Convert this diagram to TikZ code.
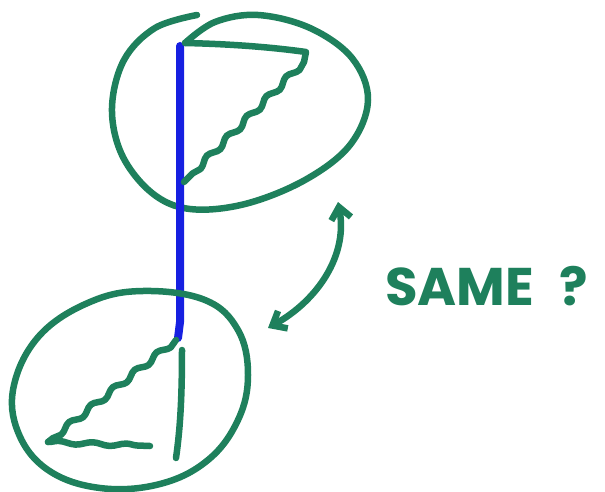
\documentclass[tikz,border=0pt]{standalone}
\usepackage{fontspec}
\setmainfont{Poppins}
\usetikzlibrary{arrows.meta,decorations.pathmorphing}
\definecolor{marker}{RGB}{30,128,92}
\definecolor{pole}{RGB}{22,32,225}
\tikzset{
  ink/.style={draw=marker,line width=6.5pt,line cap=round,line join=round},
  wavy/.style={decorate,decoration={snake,amplitude=2.5pt,segment length=28pt}},
  poleline/.style={draw=pole,line width=8pt,line cap=round},
  label/.style={text=marker,font=\fontsize{53}{53}\selectfont\bfseries,inner sep=0pt}
}
\begin{document}
\begin{tikzpicture}[x=1pt,y=-1pt]
\useasboundingbox (0,0) rectangle (605,492);
% top circle
\draw[ink] plot[smooth,tension=0.6] coordinates {(197,15) (155,28) (124,60) (112,108) (122,155) (152,193) (190,209) (245,204) (305,180) (350,145) (368,100) (352,58) (310,28) (258,15) (215,22) (185,43)};
% blue pole
\draw[poleline] (180,46) -- (180,322) -- (178,338);
% top flag
\draw[ink] (185,43) .. controls (230,44) and (270,47) .. (306,52) -- (304,62);
\draw[ink,wavy] (304,62) -- (184,182);
% bottom circle
\draw[ink] plot[smooth cycle,tension=0.65] coordinates {(143,291) (205,300) (238,330) (248,375) (238,420) (208,460) (160,484) (100,488) (48,470) (18,432) (14,385) (40,335) (90,302)};
% bottom flag
\draw[ink,wavy] (176,340) -- (48,442);
\draw[ink,decorate,decoration={snake,amplitude=1.5pt,segment length=34pt}] (48,442) -- (150,446);
\draw[ink] (182,350) .. controls (182,400) and (180,430) .. (176,458);
% arrow
\coordinate (a1) at (338,202);
\coordinate (a2) at (268,328);
\draw[ink,{Straight Barb[length=12pt,width=20pt]}-{Straight Barb[length=12pt,width=20pt]}] (a1) .. controls (348,255) and (318,300) .. (a2);
% text
\node[label,anchor=base west] (same) at (385,305) {SAME};
\node[label,anchor=base west] (q) at (559,305) {?};
\end{tikzpicture}
\end{document}
